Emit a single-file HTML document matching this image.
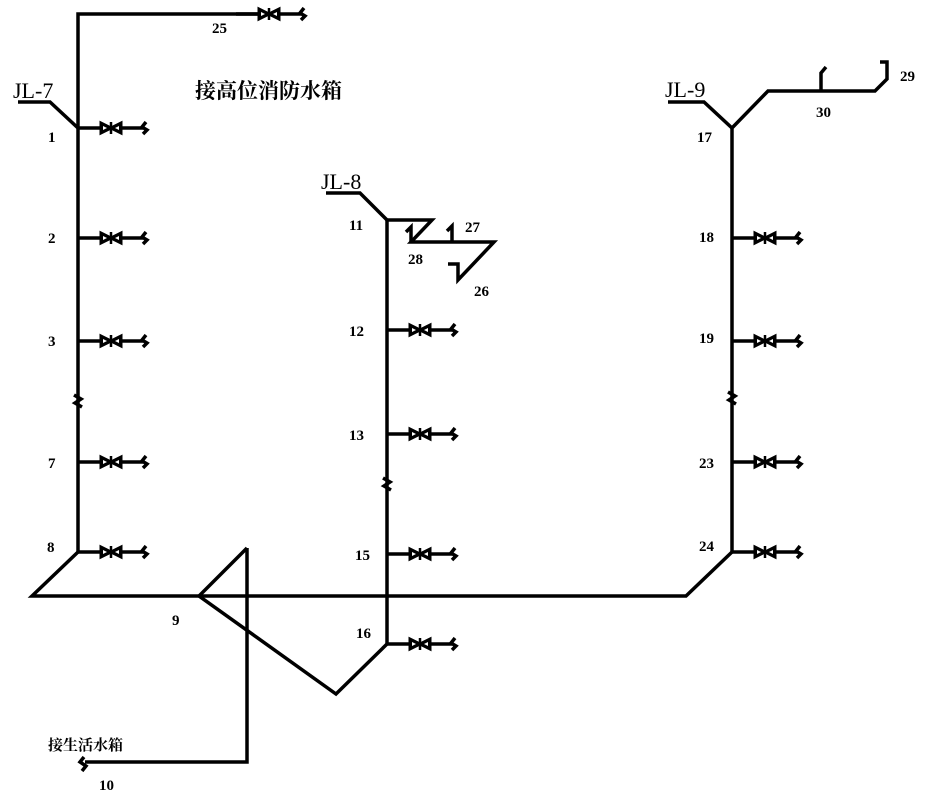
<!DOCTYPE html>
<html><head><meta charset="utf-8"><style>
html,body{margin:0;padding:0;background:#fff;width:926px;height:800px;overflow:hidden}
svg{display:block}
text{font-family:"Liberation Serif","Noto Serif CJK SC",serif;fill:#000;font-weight:bold}
</style></head><body>
<svg width="926" height="800" viewBox="0 0 926 800" xmlns="http://www.w3.org/2000/svg">
<defs>
<g id="v">
<line x1="0" y1="0" x2="65" y2="0" stroke="#000" stroke-width="3.5"/>
<polygon points="23,-5 23,5 33,0" fill="#000" stroke="#000" stroke-width="3"/>
<polygon points="43,-5 43,5 33,0" fill="#000" stroke="#000" stroke-width="3"/>
<polygon points="25,-2 25,2 29,0" fill="#fff"/>
<polygon points="41,-2 41,2 37,0" fill="#fff"/>
<line x1="33" y1="-6" x2="33" y2="6" stroke="#000" stroke-width="2.5"/>
<path d="M68,-6 L64,-1 L69,2 L65,6" fill="none" stroke="#000" stroke-width="3.5"/>
</g>
<g id="brk"><path d="M-4,-6 L3,-2 L-3,2 L4,6" fill="none" stroke="#000" stroke-width="3.5"/></g>
</defs>
<g fill="none" stroke="#000" stroke-width="3.5" stroke-linejoin="miter">
<polyline points="78,552 78,14 258,14"/>
<polyline points="18,102 50,102 78,128"/>
<polyline points="78,552 32,596 686,596 732,552"/>
<polyline points="247,548 199,596 336,694 387,644"/>
<polyline points="247,548 247,762 85,762"/>
<polyline points="387,644 387,220 432,220 411,242 494,242 458,280 458,264 448,264"/>
<polyline points="411,242 411,227 406,232"/>
<polyline points="452,242 452,226 447,231"/>
<polyline points="326,193 360,193 387,220"/>
<polyline points="732,552 732,128 768,91 875,91 887,79 887,62 880,62"/>
<polyline points="668,102 704,102 732,128"/>
<polyline points="821,91 821,73 826,67"/>
</g>
<path d="M84,757 L80,762 L86,766 L82,771" fill="none" stroke="#000" stroke-width="3.5"/>
<use href="#v" x="236" y="14"/>
<use href="#v" x="78" y="128"/>
<use href="#v" x="78" y="238"/>
<use href="#v" x="78" y="341"/>
<use href="#v" x="78" y="462"/>
<use href="#v" x="78" y="552"/>
<use href="#v" x="387" y="330"/>
<use href="#v" x="387" y="434"/>
<use href="#v" x="387" y="554"/>
<use href="#v" x="387" y="644"/>
<use href="#v" x="732" y="238"/>
<use href="#v" x="732" y="341"/>
<use href="#v" x="732" y="462"/>
<use href="#v" x="732" y="552"/>
<use href="#brk" x="78" y="401"/>
<use href="#brk" x="387" y="484"/>
<use href="#brk" x="732" y="398"/>
<g font-size="15">
<text x="212" y="33">25</text>
<text x="48" y="142">1</text>
<text x="48" y="243">2</text>
<text x="48" y="346">3</text>
<text x="48" y="468">7</text>
<text x="47" y="552">8</text>
<text x="172" y="625">9</text>
<text x="99" y="790">10</text>
<text x="349" y="230">11</text>
<text x="349" y="336">12</text>
<text x="349" y="440">13</text>
<text x="355" y="560">15</text>
<text x="356" y="638">16</text>
<text x="408" y="264">28</text>
<text x="465" y="232">27</text>
<text x="474" y="296">26</text>
<text x="697" y="142">17</text>
<text x="699" y="242">18</text>
<text x="699" y="343">19</text>
<text x="699" y="468">23</text>
<text x="699" y="551">24</text>
<text x="816" y="117">30</text>
<text x="900" y="81">29</text>
</g>
<g font-size="22" style="font-weight:normal">
<text x="13" y="98" style="font-weight:normal">JL-7</text>
<text x="321" y="189" style="font-weight:normal">JL-8</text>
<text x="665" y="97" style="font-weight:normal">JL-9</text>
</g>
<text x="195" y="98" font-size="21">接高位消防水箱</text>
<text x="48" y="750" font-size="15">接生活水箱</text>
</svg>
</body></html>
